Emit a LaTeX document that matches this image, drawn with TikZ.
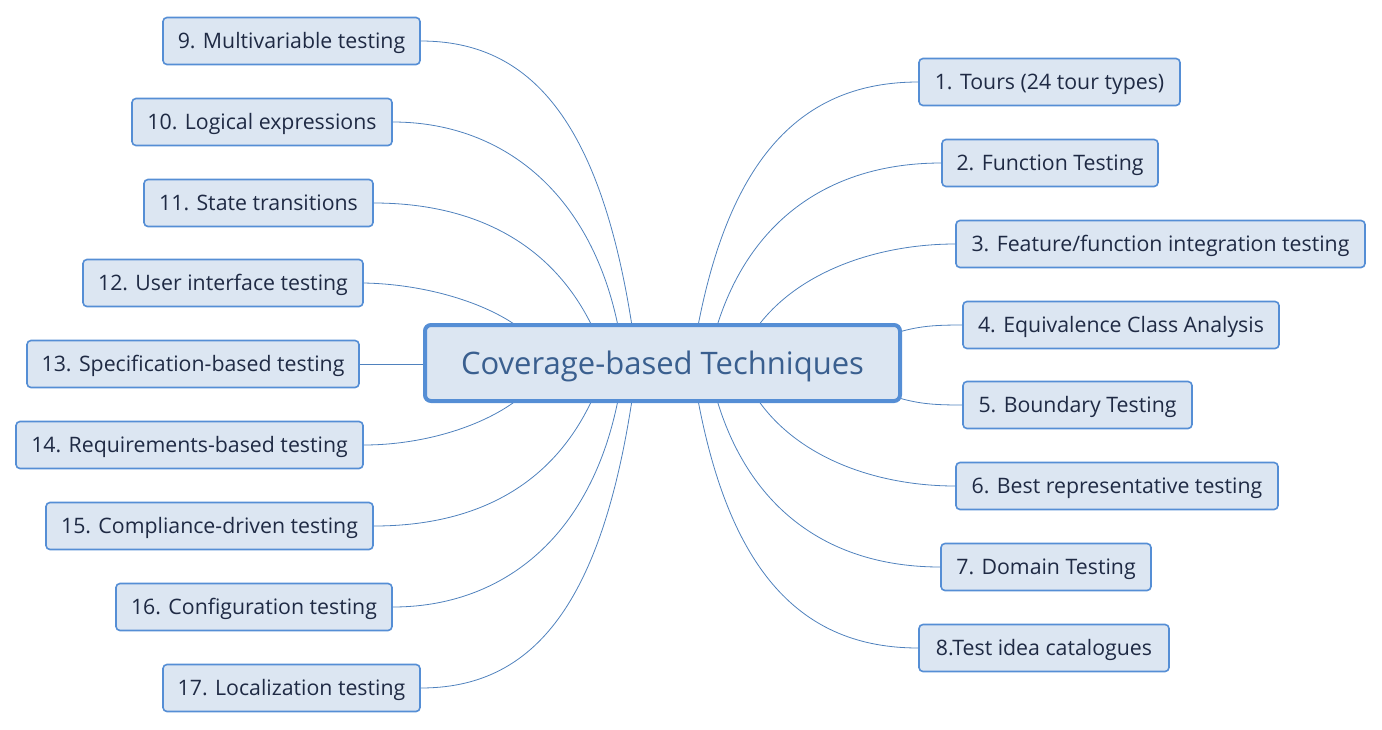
\documentclass[tikz,border=0pt]{standalone}
\usepackage{fontspec}
\setmainfont{Open Sans}
\definecolor{bfill}{HTML}{DCE6F2}
\definecolor{bline}{HTML}{558ED5}
\definecolor{wire}{HTML}{4F81BD}
\definecolor{ltext}{HTML}{1F2A44}
\definecolor{ctext}{HTML}{3A5F8F}
\begin{document}
\begin{tikzpicture}[x=1pt,y=-1pt,
  leaf/.style={draw=bline, fill=bfill, line width=1.6pt, rounded corners=4pt,
    minimum height=47pt, inner sep=0pt, text height=17pt, text depth=2pt,
    text=ltext, font=\fontsize{21.3}{25}\selectfont},
  hub/.style={draw=bline, fill=bfill, line width=4pt, rounded corners=6pt,
    minimum width=475pt, minimum height=76pt, inner sep=0pt, text height=24pt, text depth=2pt,
    text=ctext, font=\fontsize{31}{36}\selectfont},
  wirel/.style={draw=wire, line width=0.8pt}]
\useasboundingbox (0,0) rectangle (1382,729);
% leaves
\node[leaf, minimum width=261pt] (n1) at (1049.5,82) {1. Tours (24 tour types)};
\node[leaf, minimum width=216pt] (n2) at (1050,163) {2. Function Testing};
\node[leaf, minimum width=409pt] (n3) at (1160.5,244) {3. Feature/function integration testing};
\node[leaf, minimum width=316pt] (n4) at (1121,325) {4. Equivalence Class Analysis};
\node[leaf, minimum width=229pt] (n5) at (1077.5,405) {5. Boundary Testing};
\node[leaf, minimum width=322pt] (n6) at (1117,486) {6. Best representative testing};
\node[leaf, minimum width=210pt] (n7) at (1046,567) {7. Domain Testing};
\node[leaf, minimum width=250pt] (n8) at (1044,648) {8.Test idea catalogues};
\node[leaf, minimum width=257pt] (n9) at (291.5,41) {9. Multivariable testing};
\node[leaf, minimum width=260pt] (n10) at (262,122) {10. Logical expressions};
\node[leaf, minimum width=229pt] (n11) at (258.5,203) {11. State transitions};
\node[leaf, minimum width=280pt] (n12) at (223,283) {12. User interface testing};
\node[leaf, minimum width=332pt] (n13) at (193,364) {13. Specification-based testing};
\node[leaf, minimum width=347pt] (n14) at (189.5,445) {14. Requirements-based testing};
\node[leaf, minimum width=327pt] (n15) at (209.5,526) {15. Compliance-driven testing};
\node[leaf, minimum width=276pt] (n16) at (254,607) {16. Configuration testing};
\node[leaf, minimum width=257pt] (n17) at (291.5,688) {17. Localization testing};
% connector anchors on hub
\coordinate (t1) at (698,326);
\coordinate (t2) at (717,326);
\coordinate (t3) at (758,326);
\coordinate (r4) at (899,332);
\coordinate (r5) at (899,398);
\coordinate (b6) at (758,400);
\coordinate (b7) at (717,400);
\coordinate (b8) at (698,400);
\coordinate (t9) at (632,326);
\coordinate (t10) at (618,326);
\coordinate (t11) at (592,326);
\coordinate (t12) at (517,326);
\coordinate (l13) at (426,364);
\coordinate (b14) at (517,400);
\coordinate (b15) at (592,400);
\coordinate (b16) at (618,400);
\coordinate (b17) at (632,400);
% connectors
\draw[wirel] (t1) .. controls (730,160) and (800,82) .. (n1.west);
\draw[wirel] (t2) .. controls (750,220) and (830,163) .. (n2.west);
\draw[wirel] (t3) .. controls (800,270) and (880,244) .. (n3.west);
\draw[wirel] (r4) .. controls (920,326) and (935,325) .. (n4.west);
\draw[wirel] (r5) .. controls (920,404) and (935,405) .. (n5.west);
\draw[wirel] (b6) .. controls (800,460) and (880,486) .. (n6.west);
\draw[wirel] (b7) .. controls (750,510) and (830,567) .. (n7.west);
\draw[wirel] (b8) .. controls (730,570) and (800,648) .. (n8.west);
\draw[wirel] (t9) .. controls (600,120) and (530,41) .. (n9.east);
\draw[wirel] (t10) .. controls (590,190) and (500,122) .. (n10.east);
\draw[wirel] (t11) .. controls (550,240) and (470,203) .. (n11.east);
\draw[wirel] (t12) .. controls (480,300) and (420,284) .. (n12.east);
\draw[wirel] (l13) -- (n13.east);
\draw[wirel] (b14) .. controls (480,428) and (420,445) .. (n14.east);
\draw[wirel] (b15) .. controls (550,490) and (470,526) .. (n15.east);
\draw[wirel] (b16) .. controls (590,540) and (500,607) .. (n16.east);
\draw[wirel] (b17) .. controls (600,610) and (530,688) .. (n17.east);
% hub
\node[hub] (hub) at (662.5,363) {Coverage-based Techniques};
\end{tikzpicture}
\end{document}
